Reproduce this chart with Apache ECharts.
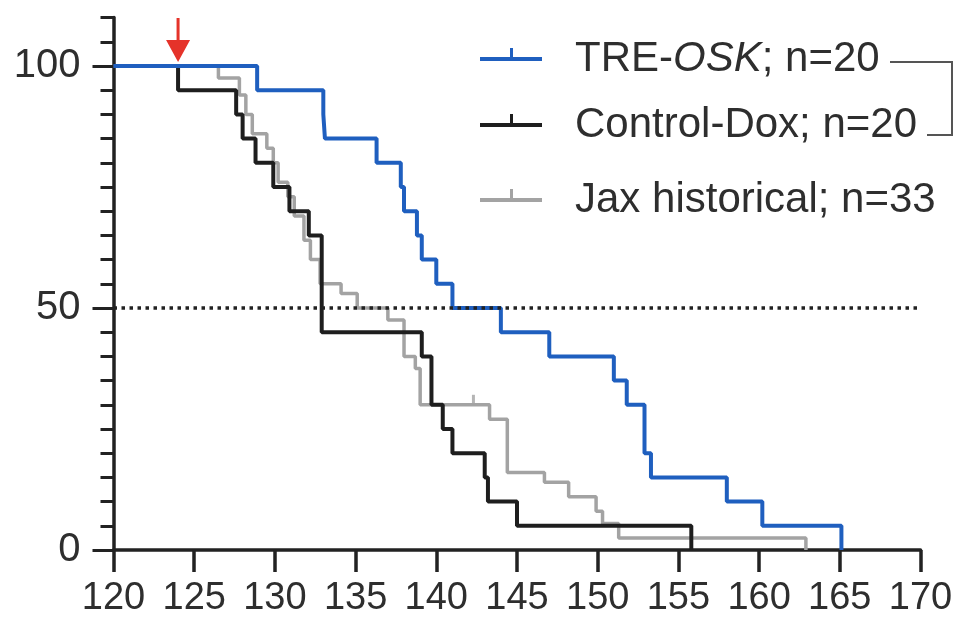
<!DOCTYPE html>
<html lang="en">
<head>
  <meta charset="UTF-8">
  <title>Survival</title>
  <script src="https://cdn.jsdelivr.net/npm/echarts@6/dist/echarts.min.js"></script>
  <style>html, body { margin: 0; background: #fff; }</style>
</head>
<body>
  <div id="main" style="width: 971px; height: 635px;"></div>
  <script type="text/javascript">
    // survival curves, [day, % alive after that day's deaths]
    const oskData = [
      [120, 100], [128.9, 95], [133.0, 90], [133.1, 85], [136.3, 80], [137.8, 75],
      [138.0, 70], [138.8, 65], [139.1, 60], [140.0, 55], [141.0, 50], [144.0, 45],
      [147.0, 40], [151.0, 35], [151.8, 30], [152.9, 20], [153.3, 15], [158.0, 10],
      [160.2, 5], [165.1, 0]
    ]
    const controlData = [
      [120, 100], [124.0, 95], [127.6, 90], [128.0, 85], [128.8, 80], [129.9, 75],
      [130.9, 70], [132.1, 65], [132.9, 45], [139.1, 40], [139.7, 30], [140.4, 25],
      [141.0, 20], [143.0, 15], [143.2, 10], [145.0, 5], [155.8, 0]
    ]
    const jaxData = [
      [120, 100], [126.5, 97.5], [127.8, 94], [128.2, 90], [128.6, 86], [129.5, 83],
      [129.9, 80], [130.2, 76], [130.8, 73], [131.2, 69], [131.8, 64], [132.2, 60],
      [132.8, 55], [134.1, 53], [135.1, 50], [137.0, 47.5], [138.0, 40], [138.7, 37.5],
      [139.0, 30], [143.3, 27], [144.4, 16], [146.7, 14], [148.2, 11], [149.9, 8],
      [150.3, 5.5], [151.3, 2.5], [162.9, 0]
    ]
    const jaxCensored = [[142.3, 30]]
    const seriesNames = ['TRE-OSK; n=20', 'Control-Dox; n=20', 'Jax historical; n=33']
    const yLabels = [0, 50, 100]
    const medianLine = 50
    const doxStartDay = 124

    const font = 'Liberation Sans, Arial, Helvetica, sans-serif'
    const blue = '#1f5fbf'
    const black = '#1e1e1e'
    const gray = '#a3a3a3'
    const axisColor = '#222'
    const textColor = '#2e2e2e'

    const myChart = echarts.init(document.getElementById('main'))

    // line with a censor tick; the last tiny piece only centres the line in the box
    const legendIcon = 'path://M0,9 L62,9 L62,13 L0,13 Z M30,0 L33,0 L33,10 L30,10 Z M0,22 L0.01,22 L0,22 Z'
    const legendRich = {
      g: { width: 28 },
      n: { fontSize: 42, fontFamily: font, color: textColor, lineHeight: 48 },
      i: { fontSize: 42, fontFamily: font, color: textColor, lineHeight: 48, fontStyle: 'italic' }
    }
    function legendAt(name, top) {
      return {
        data: [name],
        left: 480,
        top: top,
        padding: 0,
        selectedMode: false,
        icon: legendIcon,
        itemWidth: 62,
        itemHeight: 22,
        formatter: function (n) {
          if (n.indexOf('TRE-') === 0) {
            return '{g|}{n|TRE-}{i|OSK}{n|' + n.slice(7) + '}'
          }
          return '{g|}{n|' + n + '}'
        },
        textStyle: { rich: legendRich }
      }
    }

    const option = {
      animation: false,
      backgroundColor: '#fff',
      grid: { left: 113.5, right: 50.5, top: 17.6, bottom: 85 },
      legend: [
        legendAt(seriesNames[0], 38),
        legendAt(seriesNames[1], 104),
        legendAt(seriesNames[2], 179)
      ],
      xAxis: {
        type: 'value',
        min: 120,
        max: 170,
        interval: 5,
        axisLine: { lineStyle: { color: axisColor, width: 3.5 } },
        axisTick: { length: 22, lineStyle: { color: axisColor, width: 3.5 } },
        axisLabel: { fontSize: 38, fontFamily: font, color: textColor, margin: 30 },
        splitLine: { show: false }
      },
      yAxis: [{
        type: 'value',
        min: 0,
        max: 110,
        interval: 5,
        axisLine: { show: true, lineStyle: { color: axisColor, width: 3.5 } },
        axisTick: { show: true, length: 13, lineStyle: { color: axisColor, width: 3 } },
        axisLabel: { show: false },
        splitLine: { show: false }
      }, {
        type: 'value',
        min: 0,
        max: 110,
        position: 'left',
        axisLine: { show: false },
        axisTick: { show: true, length: 21, customValues: yLabels, lineStyle: { color: axisColor, width: 3 } },
        axisLabel: { customValues: yLabels, fontSize: 40, fontFamily: font, color: textColor, margin: 33 },
        splitLine: { show: false }
      }],
      graphic: [{
        type: 'polyline',
        shape: { points: [[890, 62], [952, 62], [952, 135], [927, 135]] },
        style: { stroke: '#555', lineWidth: 2, fill: null }
      }],
      series: [{
        name: seriesNames[2],
        type: 'line',
        step: 'end',
        data: jaxData,
        showSymbol: false,
        color: gray,
        lineStyle: { color: gray, width: 3.5 },
        z: 2,
        markLine: {
          silent: true,
          symbol: 'none',
          label: { show: false },
          lineStyle: { color: axisColor, type: [3.5, 4.5], width: 3.5 },
          data: [{ yAxis: medianLine }]
        }
      }, {
        name: 'jax-censored',
        type: 'scatter',
        data: jaxCensored,
        symbol: 'rect',
        symbolSize: [3, 10],
        symbolOffset: [0, -5],
        itemStyle: { color: gray },
        z: 2
      }, {
        name: seriesNames[1],
        type: 'line',
        step: 'end',
        data: controlData,
        showSymbol: false,
        color: black,
        lineStyle: { color: black, width: 4 },
        z: 3
      }, {
        name: seriesNames[0],
        type: 'line',
        step: 'end',
        data: oskData,
        showSymbol: false,
        color: blue,
        lineStyle: { color: blue, width: 4 },
        z: 4,
        markPoint: {
          silent: true,
          symbol: 'path://M10.5,0 L13.5,0 L13.5,22 L24,22 L12,44 L0,22 L10.5,22 Z',
          symbolSize: [24, 44],
          symbolOffset: [0, -26],
          itemStyle: { color: '#e5332a' },
          label: { show: false },
          data: [{ coord: [doxStartDay, 100] }]
        }
      }]
    }

    myChart.setOption(option)
  </script>
</body>
</html>
